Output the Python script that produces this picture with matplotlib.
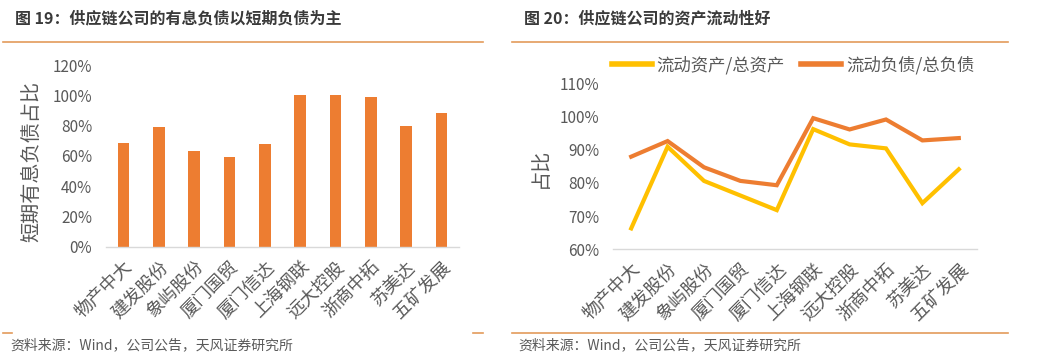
import matplotlib
matplotlib.use("Agg")
import matplotlib.pyplot as plt
from matplotlib.lines import Line2D
from matplotlib.ticker import FuncFormatter, MultipleLocator

plt.rcParams['font.family'] = ['Noto Sans CJK SC', 'DejaVu Sans']

companies = ['物产中大', '建发股份', '象屿股份', '厦门国贸', '厦门信达',
             '上海钢联', '远大控股', '浙商中拓', '苏美达', '五矿发展']
short_debt_ratio = [68.7, 79.3, 63.0, 59.2, 67.6, 100.0, 100.0, 98.9, 79.7, 88.5]
current_assets_ratio = [66.3, 90.9, 80.6, 76.2, 71.8, 96.2, 91.6, 90.4, 73.9, 84.1]
current_liab_ratio = [87.9, 92.6, 84.7, 80.6, 79.3, 99.5, 96.1, 99.1, 92.8, 93.5]

title_left = '图 19：供应链公司的有息负债以短期负债为主'
title_right = '图 20：供应链公司的资产流动性好'
source = '资料来源：Wind，公司公告，天风证券研究所'
legend_labels = ['流动资产/总资产', '流动负债/总负债']

ORANGE = '#ED7D31'
YELLOW = '#FFC000'
RULE = '#E39B5B'
GREY = '#595959'
AXIS = '#D9D9D9'

W, H = 1049, 356
fig = plt.figure(figsize=(W / 100, H / 100), dpi=100)

def fx(px):
    return px / W

def fy(py):
    return 1 - py / H

# header/footer rules
for x0, x1, y in [(3, 483, 42), (512, 1008, 42), (3, 12, 333), (473, 483, 333), (512, 1008, 333)]:
    fig.add_artist(Line2D([fx(x0), fx(x1)], [fy(y), fy(y)], color=RULE, lw=1.2))

fig.text(fx(15), fy(18), title_left, fontsize=11.5, fontweight='bold', color='#3A3A3A', va='center', ha='left')
fig.text(fx(524), fy(18), title_right, fontsize=11.5, fontweight='bold', color='#3A3A3A', va='center', ha='left')
fig.text(fx(10), fy(345), source, fontsize=10, color=GREY, va='center', ha='left')
fig.text(fx(518), fy(345), source, fontsize=10, color=GREY, va='center', ha='left')

pct = FuncFormatter(lambda v, p: f'{v:.0f}%')

def style(ax):
    for s in ['top', 'right', 'left']:
        ax.spines[s].set_visible(False)
    ax.spines['bottom'].set_color(AXIS)
    ax.spines['bottom'].set_linewidth(1.0)
    ax.tick_params(axis='both', length=0, colors=GREY, labelsize=11)
    ax.tick_params(axis='y', pad=10)
    ax.yaxis.set_major_formatter(pct)
    ax.set_xticks(range(len(companies)))
    ax.set_xticklabels(companies, rotation=45, ha='right', rotation_mode='anchor', fontsize=13, color=GREY)
    ax.tick_params(axis='x', pad=8)

# left bar chart
ax1 = fig.add_axes([fx(106), fy(246.7), fx(353), (246.7 - 65) / H])
x = range(len(companies))
ax1.bar(x, short_debt_ratio, width=0.33, color=ORANGE)
ax1.set_xlim(-0.5, len(companies) - 0.5)
ax1.set_ylim(0, 120)
ax1.yaxis.set_major_locator(MultipleLocator(20))
style(ax1)
ax1.set_ylabel('短期有息负债占比', fontsize=14.5, color=GREY, va='center')
ax1.yaxis.set_label_coords((32 - 106) / 353, 0.47)

# right line chart
ax2 = fig.add_axes([fx(613), fy(249.3), fx(364), (249.3 - 83.3) / H])
ax2.plot(x, current_assets_ratio, color=YELLOW, lw=3, solid_joinstyle='miter', label=legend_labels[0])
ax2.plot(x, current_liab_ratio, color=ORANGE, lw=3, solid_joinstyle='miter', label=legend_labels[1])
ax2.set_xlim(-0.5, len(companies) - 0.5)
ax2.set_ylim(60, 110)
ax2.yaxis.set_major_locator(MultipleLocator(10))
style(ax2)
ax2.set_ylabel('占比', fontsize=14.5, color=GREY, va='center')
ax2.yaxis.set_label_coords((540 - 613) / 364, 0.49)
leg = ax2.legend(loc='center', bbox_to_anchor=(fx(793), fy(65)), bbox_transform=fig.transFigure,
                 ncol=2, frameon=False, fontsize=12.5, handlelength=2.3, handletextpad=0.3,
                 columnspacing=0.9, borderpad=0)
for t in leg.get_texts():
    t.set_color(GREY)
for h in leg.get_lines():
    h.set_linewidth(4)

fig.savefig('out.png', dpi=100)
